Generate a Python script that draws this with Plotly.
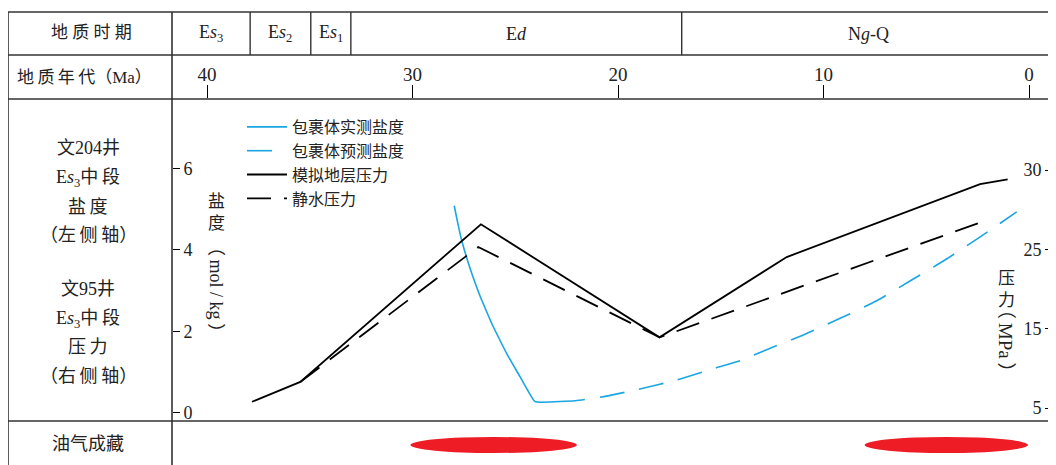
import numpy as np
import plotly.graph_objects as go

W, H = 1056, 465
OFF = 8  # page body margin of the written html

# ---------------- data ----------------
period_names = ["E<i>s</i><sub>3</sub>", "E<i>s</i><sub>2</sub>", "E<i>s</i><sub>1</sub>", "E<i>d</i>", "N<i>g</i>-Q"]
period_bounds = [37.9, 34.95, 33.0, 16.9]   # boundaries between successive periods (Ma)
age_ticks = [40, 30, 20, 10, 0]

# inclusion measured salinity (mol/kg)
meas_age = [27.97, 27.80, 27.61, 27.28, 26.99, 26.70, 26.15, 25.81, 25.42, 24.77, 24.41, 24.04, 22.82]
meas_sal = [5.08, 4.66, 4.24, 3.67, 3.24, 2.85, 2.20, 1.85, 1.46, 0.89, 0.57, 0.28, 0.28]

# inclusion predicted salinity (mol/kg)
pred_age = [22.82, 22.08, 20.87, 19.00, 17.14, 15.27, 14.06, 12.68, 10.90, 9.19, 7.41, 5.71, 4.09, 2.43, 1.46, 0.60]
pred_sal = [0.28, 0.30, 0.385, 0.58, 0.81, 1.10, 1.28, 1.57, 1.93, 2.32, 2.75, 3.26, 3.75, 4.30, 4.63, 4.93]

# simulated formation pressure (MPa)
sim_age = [37.81, 35.46, 26.67, 17.98, 11.79, 2.38, 1.04]
sim_p = [5.79, 8.29, 26.58, 13.91, 24.03, 29.11, 29.41]

# hydrostatic pressure (MPa)
hyd_age = [35.46, 26.80, 17.98, 2.38]
hyd_p = [8.29, 25.15, 13.91, 26.69]

# pressure axis tick labels (as printed, evenly spaced)
p_ticks = [5, 15, 25, 30]
sal_ticks = [0, 2, 4, 6]

# hydrocarbon accumulation periods (Ma)
accum_periods = [(30.1, 22.0), (8.0, 0.05)]

# ---------------- helpers ----------------
def px(x):
    return (x - OFF) / W

def py(y):
    return 1 - (y - OFF) / H

FONT = "Liberation Serif, Noto Sans CJK SC, serif"
TXT = "#222222"
LINE = "#333333"
BLUE = "#1AA6E2"

p_pos = list(range(len(p_ticks)))  # evenly spaced label slots on the right axis

def p_to_axis(p):
    return np.interp(p, p_ticks, p_pos)

X_LEFT, X_RIGHT = 172, 1056
x_range = [(1029 - X_LEFT) / 20.55, (1029 - X_RIGHT) / 20.55]

fig = go.Figure()

fig.add_trace(go.Scatter(x=meas_age, y=meas_sal, mode="lines", name="包裹体实测盐度",
                         line=dict(color=BLUE, width=1.6, shape="spline", smoothing=0.4)))
fig.add_trace(go.Scatter(x=pred_age, y=pred_sal, mode="lines", name="包裹体预测盐度",
                         line=dict(color=BLUE, width=1.6, dash="25px,15px", shape="spline", smoothing=0.6)))
fig.add_trace(go.Scatter(x=sim_age, y=p_to_axis(sim_p), mode="lines", name="模拟地层压力", yaxis="y2",
                         line=dict(color="black", width=1.8)))
fig.add_trace(go.Scatter(x=hyd_age, y=p_to_axis(hyd_p), mode="lines", name="静水压力", yaxis="y2",
                         line=dict(color="black", width=1.8, dash="24px,13px")))

shapes = []
for y in [12, 55, 99, 421]:
    shapes.append(dict(type="line", xref="paper", yref="paper", x0=px(8), x1=1, y0=py(y), y1=py(y),
                       line=dict(color=LINE, width=1.6)))
for x in [8, 172]:
    shapes.append(dict(type="line", xref="paper", yref="paper", x0=px(x), x1=px(x), y0=py(12), y1=0,
                       line=dict(color=LINE, width=1.6)))
for b in period_bounds:
    shapes.append(dict(type="line", xref="x", yref="paper", x0=b, x1=b, y0=py(12), y1=py(55),
                       line=dict(color=LINE, width=1.4)))
for a0, a1 in accum_periods:
    shapes.append(dict(type="circle", xref="x", yref="paper", x0=a0, x1=a1, y0=py(453), y1=py(437),
                       fillcolor="#EE1C25", line=dict(width=0), layer="above"))

annotations = []

def ann(x, y, text, size, angle=0, xref="paper"):
    annotations.append(dict(x=x, y=py(y), xref=xref, yref="paper", text=text, showarrow=False,
                            xanchor="center", yanchor="middle", textangle=angle,
                            font=dict(family=FONT, size=size, color=TXT)))

edges = [x_range[0]] + period_bounds + [x_range[1]]
for i, name in enumerate(period_names):
    c = (edges[i] + edges[i + 1]) / 2
    ann(c, 34, name, 18, xref="x")

ann(px(91), 33, "地 质 时 期", 17)
ann(px(84), 77, "地\u2009质\u2009年\u2009代（Ma）", 17)
ann(px(88), 148, "文204井", 18)
ann(px(88), 178, "E<i>s</i><sub>3</sub>中\u2009段", 18)
ann(px(88), 207, "盐\u2009度", 18)
ann(px(88), 235, "（左\u2009侧\u2009轴）", 18)
ann(px(88), 289, "文95井", 18)
ann(px(88), 319, "E<i>s</i><sub>3</sub>中\u2009段", 18)
ann(px(88), 347, "压\u2009力", 18)
ann(px(88), 376, "（右\u2009侧\u2009轴）", 18)
ann(px(88), 444, "油气成藏", 18)

# axis titles
ann(px(216), 212, "盐<br>度", 17)
ann(px(216), 289, "（\u2009mol / kg\u2009）", 18, angle=90)
ann(px(1006), 289, "压<br>力", 17)
ann(px(1006), 341, "（\u2009MPa\u2009）", 19, angle=90)

fig.update_layout(
    width=W, height=H,
    margin=dict(l=0, r=0, t=0, b=0),
    paper_bgcolor="white", plot_bgcolor="rgba(0,0,0,0)",
    showlegend=True,
    legend=dict(x=px(242), y=py(110), xanchor="left", yanchor="top", bgcolor="rgba(0,0,0,0)",
                font=dict(family=FONT, size=16, color=TXT), tracegroupgap=0, itemwidth=40),
    xaxis=dict(domain=[px(X_LEFT), px(X_RIGHT)], range=x_range, side="top", tickvals=age_ticks,
               ticks="outside", ticklen=13, tickcolor="black", tickwidth=1, ticklabelstandoff=-4,
               showline=False, showgrid=False, zeroline=False,
               tickfont=dict(family=FONT, size=19, color=TXT)),
    yaxis=dict(domain=[py(440), py(99)], range=[-0.662, 7.696], tickvals=sal_ticks,
               side="right", anchor="free", position=px(172),
               ticks="outside", ticklen=7, tickcolor="black",
               showline=False, showgrid=False, zeroline=False,
               tickfont=dict(family=FONT, size=18, color=TXT)),
    yaxis2=dict(overlaying="y", side="left", anchor="free", position=px(1050), range=[-0.403, 3.895],
                tickvals=p_pos, ticktext=[str(v) for v in p_ticks],
                ticks="outside", ticklen=5, tickcolor="black",
                showline=False, showgrid=False, zeroline=False,
                tickfont=dict(family=FONT, size=18, color=TXT)),
    shapes=shapes,
    annotations=annotations,
)

fig.write_html("out.html")
